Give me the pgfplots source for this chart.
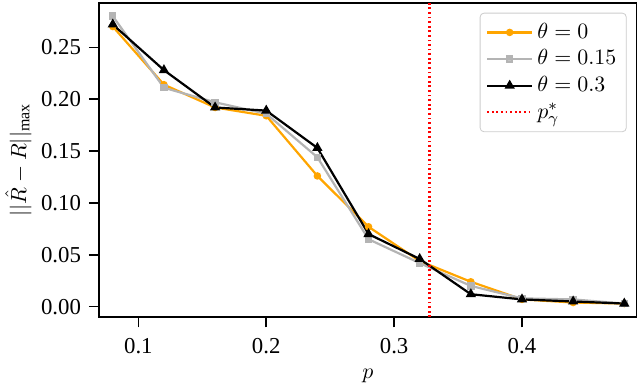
\documentclass[border=0pt]{standalone}
\usepackage{fontspec}
\setmainfont{Liberation Serif}
\usepackage{pgfplots}
\pgfplotsset{compat=1.18}
\usepackage{pgfplotstable}

\definecolor{orangeC}{HTML}{FFA500}
\definecolor{grayC}{HTML}{B4B4B4}

% p, theta=0, theta=0.15, theta=0.3
\pgfplotstableread{
p     t0     t15    t30
0.08  0.270  0.280  0.272
0.12  0.214  0.211  0.228
0.16  0.192  0.197  0.192
0.20  0.184  0.186  0.189
0.24  0.126  0.144  0.153
0.28  0.077  0.065  0.070
0.32  0.044  0.042  0.046
0.36  0.024  0.020  0.012
0.40  0.007  0.008  0.007
0.44  0.004  0.007  0.005
0.48  0.003  0.003  0.003
}\errtable

\begin{document}
\fontsize{11.4pt}{13pt}\selectfont
\begin{tikzpicture}
\begin{axis}[
  scale only axis,
  width=268.9pt, height=157.3pt,
  xmin=0.0692, xmax=0.4897,
  ymin=-0.0102, ymax=0.293,
  xtick={0.1,0.2,0.3,0.4},
  ytick={0,0.05,0.1,0.15,0.2,0.25},
  /pgf/number format/assume math mode=true,
  xticklabel style={/pgf/number format/fixed,/pgf/number format/precision=1},
  yticklabel style={/pgf/number format/fixed,/pgf/number format/fixed zerofill,/pgf/number format/precision=2},
  tick align=outside,
  major tick length=5pt,
  xticklabel shift=1.5pt,
  tick style={black, line width=0.8pt},
  xtick pos=bottom, ytick pos=left,
  axis line style={line width=0.8pt},
  xlabel={$p$},
  ylabel={$||\hat{R}-R||_{\max}$},
  ylabel shift=-3pt,
  every tick label/.append style={font=\fontsize{11.4pt}{13pt}\selectfont},
  label style={font=\fontsize{11.4pt}{13pt}\selectfont},
  legend style={at={(rel axis cs:1,1)}, anchor=north east, xshift=-5pt, yshift=-5pt,
    draw=black!20, rounded corners=2pt, fill=white, fill opacity=0.8, text opacity=1,
    font=\fontsize{11.4pt}{13pt}\selectfont, row sep=0pt, inner sep=3pt},
  legend cell align=left,
  legend image code/.code={\draw[mark repeat=2,mark phase=2,#1] plot coordinates {(0pt,0pt) (11.25pt,0pt) (22.5pt,0pt)};},
]
\addplot[orangeC, line width=1.1pt, mark=*, mark size=1.3pt] table[x=p,y=t0] {\errtable};
\addlegendentry{$\theta=0$}
\addplot[grayC, line width=1.1pt, mark=square*, mark size=1.3pt] table[x=p,y=t15] {\errtable};
\addlegendentry{$\theta=0.15$}
\addplot[black, line width=1.1pt, mark=triangle*, mark size=1.9pt] table[x=p,y=t30] {\errtable};
\addlegendentry{$\theta=0.3$}
\addplot[red, line width=1.1pt, dash pattern=on 0.9pt off 1.4pt] coordinates {(0.3277,-0.0102) (0.3277,0.293)};
\addlegendentry{$p^*_\gamma$}
\coordinate (sw) at (rel axis cs:0,0);
\coordinate (ne) at (rel axis cs:1,1);
\end{axis}
\pgfresetboundingbox
\useasboundingbox ([xshift=-49.5pt,yshift=-35.35pt]sw) rectangle ([xshift=1.65pt,yshift=1.35pt]ne);
\end{tikzpicture}
\end{document}
